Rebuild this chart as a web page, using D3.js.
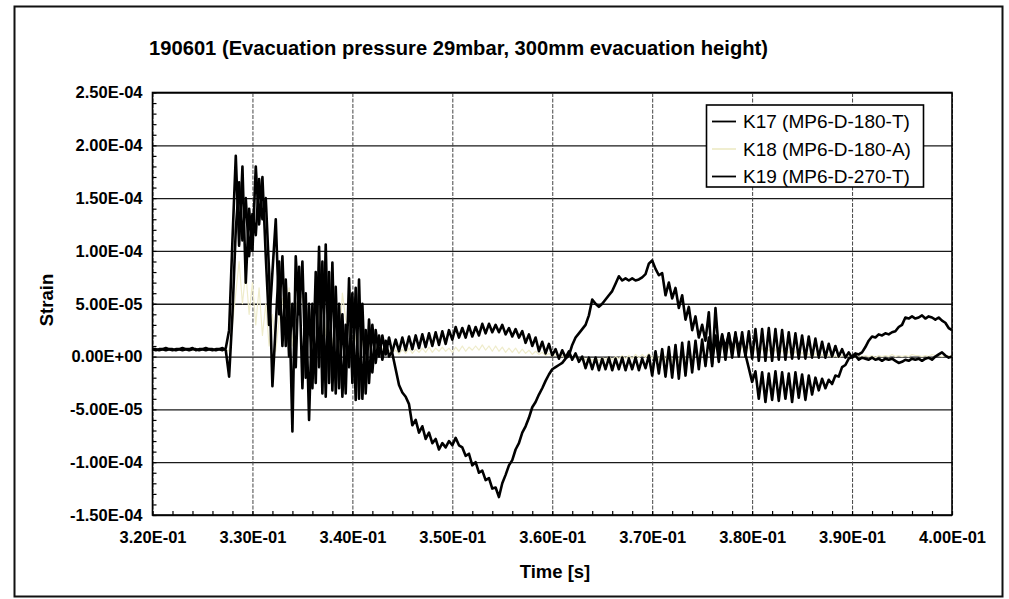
<!DOCTYPE html>
<html>
<head>
<meta charset="utf-8">
<script src="https://cdn.jsdelivr.net/npm/d3@7"></script>
<style>
  body { margin: 0; background: #fff; }
  svg { display: block; }
</style>
</head>
<body>
<svg id="chart" width="1009" height="599"></svg>
<script>
// ---- chart text -----------------------------------------------------------
const chartTitle = "190601 (Evacuation pressure 29mbar, 300mm evacuation height)";
const xTitle = "Time [s]";
const yTitle = "Strain";
const seriesNames = ["K17 (MP6-D-180-T)", "K18 (MP6-D-180-A)", "K19 (MP6-D-270-T)"];

// ---- axes -----------------------------------------------------------------
const xTicks = [0.32, 0.33, 0.34, 0.35, 0.36, 0.37, 0.38, 0.39, 0.40];
const xTickLabels = ["3.20E-01", "3.30E-01", "3.40E-01", "3.50E-01", "3.60E-01",
                     "3.70E-01", "3.80E-01", "3.90E-01", "4.00E-01"];
const yTicks = [2.5e-4, 2.0e-4, 1.5e-4, 1.0e-4, 5.0e-5, 0, -5.0e-5, -1.0e-4, -1.5e-4];
const yTickLabels = ["2.50E-04", "2.00E-04", "1.50E-04", "1.00E-04", "5.00E-05",
                     "0.00E+00", "-5.00E-05", "-1.00E-04", "-1.50E-04"];

// ---- recorded strain (units of 1E-05), 241 samples from 0.320 s to 0.400 s --
const timeStart = 0.32;
const timeEnd = 0.40;
const sampleCount = 241;

const k17 = [
  0.7,0.6,0.7,0.7,0.6,0.7,0.7,0.6,0.7,0.8,0.7,0.6,0.7,0.7,0.6,0.7,0.8,0.7,0.6,0.7,0.7,0.6,0.8,
  2.5,11,19,10.5,18,7,14,10,18,12.5,17,9.5,3,8,13,4,9.5,1,6,-7.1,9.5,4,9,-2,5,-3,
  8,-1,9,-3.8,8,-3.2,6.6,-3,4,-3.5,7.4,-2.5,6.5,-4,5,-3.5,3.5,-1.5,2.5,0,2,0.2,1.8,0.3,
  -1.2,-2.7,-3.4,-3.8,-4.5,-6.5,-6.0,-7.2,-6.6,-7.8,-7.2,-8.2,-7.8,-8.8,-8.2,-8.6,-8.0,
  -8.4,-7.7,-8.4,-8.6,-9.4,-9.2,-10.3,-10.0,-11.0,-10.8,-11.7,-11.5,-12.5,-12.4,-13.3,
  -12.0,-11.2,-10.3,-9.8,-8.8,-8.2,-7.2,-6.6,-5.8,-4.8,-4.3,-3.6,-3.0,-2.3,-1.7,-1.2,-1.0,-0.8,-0.6,-0.2,0.1,
  1.1,1.8,2.2,2.6,3.0,3.9,5.4,5.0,4.7,5.0,5.4,5.8,6.2,6.9,7.6,7.2,7.4,7.2,7.4,7.2,7.3,7.5,7.8,8.8,9.1,
  8.3,7.7,7.9,5.8,7.0,5.5,6.5,4.6,5.8,3.5,4.7,2.5,3.8,1.8,3.0,1.5,4.2,-0.9,4.6,0.5,2.0,0.8,2.2,0.6,2.0,0.8,1.8,0.2,-1.1,-2.4,
  -1.4,-4.0,-1.5,-4.3,-1.6,-4.1,-1.4,-4.2,-1.5,-4.0,-1.6,-4.3,-1.5,-3.9,-1.7,-4.1,-1.8,-3.6,-2.0,-3.2,-2.1,-3.0,-2.2,-2.6,-1.8,-1.9,-1.0,-0.8,-0.2,0.0,
  0.3,0.2,0.4,0.9,1.5,1.9,1.8,2.1,2.0,2.2,2.1,2.3,2.4,2.8,3.0,3.7,3.6,3.8,3.6,3.7,3.9,3.6,3.8,3.7,3.5,3.7,3.4,3.2,2.7,2.5
];

const k18 = [
  0.7,0.7,0.7,0.6,0.7,0.7,0.7,0.6,0.7,0.7,0.7,0.7,0.6,0.7,0.7,0.7,0.7,0.6,0.7,0.7,0.7,0.7,0.7,
  0.5,3,6,9,5,8,4,7,3,6.5,2,5,1,4,0.5,3.5,5.5,2,6.5,1,4.5,6,5.5,2,5,1,6,3.5,
  5.8,2,4.5,1,3.5,0.5,6,3.5,2.5,0,2,-0.5,1.5,-0.3,1.2,0,1,0.2,0.8,0.3,0.6,0.4,
  0.6,0.2,0.7,0.3,0.8,0.3,0.7,0.4,0.8,0.4,0.9,0.4,0.8,0.5,0.9,0.5,0.8,0.4,
  0.9,0.5,1.0,0.5,0.9,0.6,1.0,0.6,1.1,0.6,1.0,0.5,1.0,0.5,0.9,0.4,0.8,0.4,0.8,0.3,0.7,0.3,0.6,0.2,0.5,0.2,0.4,0.1,0.3,0.0,
  0.2,-0.1,0.1,-0.2,0.1,-0.2,0.0,-0.3,0.0,-0.3,-0.1,-0.4,-0.1,-0.4,-0.1,-0.3,0.0,-0.3,0.0,-0.2,0.1,-0.2,0.1,-0.2,0.2,-0.1,0.2,-0.1,0.3,-0.2,
  0.4,-0.3,0.5,-0.4,0.6,-0.5,0.6,-0.5,0.7,-0.4,0.7,-0.3,0.8,-0.2,0.8,-0.1,0.9,0.0,0.9,0.1,1.0,0.1,1.0,0.2,1.0,0.2,0.9,0.3,0.9,0.3,
  0.8,0.3,0.8,0.2,0.7,0.2,0.7,0.1,0.6,0.1,0.5,0.0,0.5,0.0,0.4,0.0,0.3,-0.1,0.3,-0.1,0.2,-0.1,0.2,-0.1,0.1,-0.1,0.1,0.0,0.1,0.0,
  0.0,0.1,0.0,0.1,0.0,0.1,-0.1,0.1,0.0,0.1,0.0,0.2,0.0,0.1,0.0,0.1,0.0,0.2,0.1,0.1,0.0,0.1,0.0,0.2,0.1,0.1,0.0,0.1,0.1,0.1
];

const k19 = [
  0.7,0.7,0.6,0.7,0.8,0.7,0.6,0.7,0.7,0.6,0.7,0.7,0.8,0.6,0.7,0.7,0.6,0.7,0.7,0.6,0.7,0.8,0.6,
  -1.9,4,12,16.5,11,15,9.5,13.5,11.5,16.8,13,15,8,-2.8,3,9,1,7.3,0,5,-1,8.5,-3,6,-6,5,
  -2.5,10.4,-3.5,10.6,-2.5,8.9,-3.5,5,-3.8,3,-1,6,-4.1,7.3,-4,2.5,-2.5,3,-0.6,2,-0.3,1.5,0,0.5,
  1.6,0.5,1.8,0.6,1.9,0.7,2.0,0.8,2.1,0.9,2.2,1.0,2.3,1.1,2.4,1.2,2.5,
  1.6,2.8,1.8,2.7,1.8,2.9,1.9,2.8,2.0,3.1,2.2,3.1,2.3,3.0,2.3,3.0,
  2.1,2.7,1.9,2.6,1.8,2.4,1.3,2.1,1.0,1.8,0.5,1.4,0.3,1.2,0.1,
  0.7,-0.2,0.6,-0.1,0.5,-0.3,0.3,-0.5,0.0,-1.1,-0.1,-1.2,-0.1,-1.3,-0.2,-1.2,-0.1,-1.3,-0.2,-1.2,-0.1,-1.3,-0.2,-1.2,-0.1,-1.3,-0.2,-1.1,0.1,-1.8,
  0.5,-1.6,0.7,-1.9,0.9,-2.0,1.1,-2.1,1.3,-1.8,1.4,-1.5,1.5,-1.2,1.6,-0.9,1.8,-0.7,2.0,-0.5,2.1,-0.3,2.2,-0.1,2.3,0.0,2.3,0.0,2.4,-0.2,
  2.6,-0.4,2.6,-0.4,2.7,-0.4,2.6,-0.3,2.5,-0.3,2.3,-0.2,2.2,-0.2,2.0,-0.2,1.9,-0.1,1.7,-0.1,1.4,-0.1,1.2,0.0,1.0,0.0,0.7,-0.1,0.4,-0.1,
  0.1,-0.3,-0.1,-0.2,-0.3,-0.1,-0.3,-0.2,-0.4,-0.2,-0.3,-0.2,-0.4,-0.6,-0.5,-0.3,-0.4,-0.2,-0.3,-0.2,-0.4,-0.2,-0.1,-0.3,0.0,0.2,0.4,0.1,-0.1,0.0
];

const seriesValues = [k17, k18, k19];
const seriesColors = ["#000000", "#efeccb", "#000000"];
const seriesWidths = [2.6, 1.2, 2.6];

// ---- layout ---------------------------------------------------------------
const plot = { left: 152.5, right: 952, top: 92.5, bottom: 515 };
const fontFamily = "'Liberation Sans', Arial, Helvetica, sans-serif";
const svg = d3.select("#chart");

// chart area frame
svg.append("rect")
  .attr("x", 14.5).attr("y", 6.5).attr("width", 988).attr("height", 590)
  .attr("fill", "#fff").attr("stroke", "#111").attr("stroke-width", 2);

const x = d3.scaleLinear().domain([timeStart, timeEnd]).range([plot.left, plot.right]);
const y = d3.scaleLinear().domain([-1.5e-4, 2.5e-4]).range([plot.bottom, plot.top]);
const sampleStep = (timeEnd - timeStart) / (sampleCount - 1);

// gridlines
svg.append("g")
  .attr("transform", `translate(${plot.left},0)`)
  .call(d3.axisLeft(y).tickValues(yTicks).tickSize(-(plot.right - plot.left)).tickFormat(""))
  .call(g => g.select(".domain").remove())
  .selectAll("line").attr("stroke", "#1a1a1a").attr("stroke-width", 1.3);

svg.append("g")
  .attr("transform", `translate(0,${plot.bottom})`)
  .call(d3.axisBottom(x).tickValues(xTicks).tickSize(-(plot.bottom - plot.top)).tickFormat(""))
  .call(g => g.select(".domain").remove())
  .selectAll("line").attr("stroke", "#444").attr("stroke-width", 1).attr("stroke-dasharray", "4,1.5");

// minor tick marks on the inside of the axes
const yMinor = d3.range(-15, 25.01, 1).map(v => v * 1e-5);
const xMinor = d3.range(0, 40.01, 1).map(i => timeStart + i * 0.002);
svg.append("g")
  .attr("transform", `translate(${plot.left},0)`)
  .call(d3.axisRight(y).tickValues(yMinor).tickSize(4).tickFormat(""))
  .call(g => g.select(".domain").remove())
  .selectAll("line").attr("stroke", "#000").attr("stroke-width", 1.2);
svg.append("g")
  .attr("transform", `translate(0,${plot.bottom})`)
  .call(d3.axisTop(x).tickValues(xMinor).tickSize(4).tickFormat(""))
  .call(g => g.select(".domain").remove())
  .selectAll("line").attr("stroke", "#000").attr("stroke-width", 1.2);

// data lines
svg.append("clipPath").attr("id", "plot-clip")
  .append("rect")
  .attr("x", plot.left).attr("y", plot.top)
  .attr("width", plot.right - plot.left).attr("height", plot.bottom - plot.top);

const line = d3.line()
  .x((d, i) => x(timeStart + i * sampleStep))
  .y(d => y(d * 1e-5));

const drawOrder = [1, 2, 0];
svg.append("g").attr("clip-path", "url(#plot-clip)")
  .selectAll("path")
  .data(drawOrder)
  .join("path")
  .attr("d", k => line(seriesValues[k]))
  .attr("fill", "none")
  .attr("stroke", k => seriesColors[k])
  .attr("stroke-width", k => seriesWidths[k])
  .attr("stroke-linejoin", "round");

// plot frame
svg.append("rect")
  .attr("x", plot.left).attr("y", plot.top)
  .attr("width", plot.right - plot.left).attr("height", plot.bottom - plot.top)
  .attr("fill", "none").attr("stroke", "#000").attr("stroke-width", 1.6);

// tick labels
const yAxis = svg.append("g")
  .attr("transform", `translate(${plot.left},0)`)
  .call(d3.axisLeft(y).tickValues(yTicks).tickSize(0).tickPadding(10)
    .tickFormat((d, i) => yTickLabels[i]));
yAxis.select(".domain").remove();
yAxis.selectAll("text")
  .attr("font-family", fontFamily).attr("font-size", 16.5).attr("font-weight", "bold")
  .attr("fill", "#000");

const xAxis = svg.append("g")
  .attr("transform", `translate(0,${plot.bottom})`)
  .call(d3.axisBottom(x).tickValues(xTicks).tickSize(0).tickPadding(16)
    .tickFormat((d, i) => xTickLabels[i]));
xAxis.select(".domain").remove();
xAxis.selectAll("text")
  .attr("font-family", fontFamily).attr("font-size", 16.5).attr("font-weight", "bold")
  .attr("fill", "#000");

// titles
svg.append("text")
  .attr("x", 149).attr("y", 55)
  .attr("font-family", fontFamily).attr("font-size", 19.5).attr("font-weight", "bold")
  .attr("textLength", 619).attr("lengthAdjust", "spacingAndGlyphs")
  .text(chartTitle);

svg.append("text")
  .attr("transform", "translate(53,300) rotate(-90)")
  .attr("text-anchor", "middle")
  .attr("font-family", fontFamily).attr("font-size", 18.5).attr("font-weight", "bold")
  .text(yTitle);

svg.append("text")
  .attr("x", 555).attr("y", 578)
  .attr("text-anchor", "middle")
  .attr("font-family", fontFamily).attr("font-size", 18.5).attr("font-weight", "bold")
  .text(xTitle);

// legend
const legend = svg.append("g");
legend.append("rect")
  .attr("x", 706.5).attr("y", 105).attr("width", 217).attr("height", 82)
  .attr("fill", "#fff").attr("stroke", "#000").attr("stroke-width", 1.6);
const legendRows = [121.5, 149, 176.5];
const items = legend.selectAll("g.item")
  .data(seriesNames)
  .join("g").attr("class", "item")
  .attr("transform", (d, i) => `translate(0,${legendRows[i]})`);
items.append("line")
  .attr("x1", 712).attr("x2", 736).attr("y1", 0).attr("y2", 0)
  .attr("stroke", (d, i) => seriesColors[i]).attr("stroke-width", 1.8);
items.append("text")
  .attr("x", 743).attr("y", 0).attr("dy", "0.36em")
  .attr("font-family", fontFamily).attr("font-size", 19)
  .text(d => d);
</script>
</body>
</html>
